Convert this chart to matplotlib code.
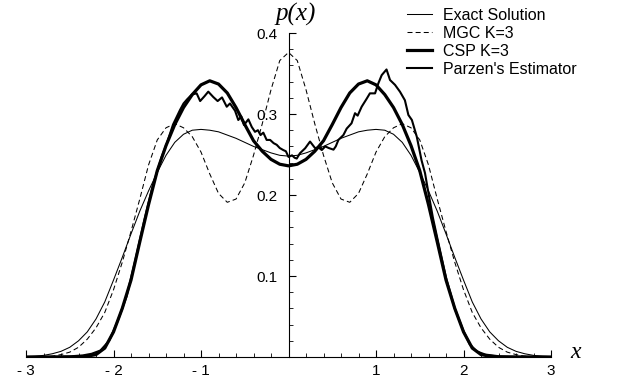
import numpy as np
import matplotlib.pyplot as plt
from matplotlib.ticker import FixedLocator, MultipleLocator

# grid for the smooth curves (step 0.1 from -3 to 3)
x_grid = np.linspace(-3, 3, 61)

exact = [0.0005, 0.001, 0.002, 0.004, 0.007, 0.012, 0.020, 0.031, 0.047, 0.068,
         0.095, 0.123, 0.152, 0.180, 0.205, 0.228, 0.249, 0.265, 0.275, 0.280,
         0.281, 0.280, 0.278, 0.274, 0.270, 0.265, 0.260, 0.256, 0.252, 0.249,
         0.248,
         0.249, 0.252, 0.256, 0.260, 0.265, 0.270, 0.274, 0.278, 0.280, 0.281,
         0.280, 0.275, 0.265, 0.249, 0.228, 0.205, 0.180, 0.152, 0.123, 0.095,
         0.068, 0.047, 0.031, 0.020, 0.012, 0.007, 0.004, 0.002, 0.001, 0.0005]

mgc = [0.0, 0.0, 0.0, 0.001, 0.003, 0.006, 0.012, 0.022, 0.036, 0.055,
       0.083, 0.117, 0.155, 0.195, 0.237, 0.268, 0.283, 0.288, 0.283, 0.272,
       0.253, 0.226, 0.202, 0.191, 0.195, 0.215, 0.249, 0.288, 0.330, 0.366,
       0.376,
       0.366, 0.330, 0.288, 0.249, 0.215, 0.195, 0.191, 0.202, 0.226, 0.253,
       0.272, 0.283, 0.288, 0.283, 0.268, 0.237, 0.195, 0.155, 0.117, 0.083,
       0.055, 0.036, 0.022, 0.012, 0.006, 0.003, 0.001, 0.0, 0.0, 0.0]

csp = [0.0, 0.0, 0.0, 0.0, 0.0, 0.0, 0.0, 0.001, 0.003, 0.011,
       0.031, 0.060, 0.095, 0.142, 0.188, 0.230, 0.261, 0.287, 0.308, 0.324,
       0.336, 0.341, 0.337, 0.326, 0.308, 0.287, 0.267, 0.254, 0.244, 0.238,
       0.236,
       0.238, 0.244, 0.254, 0.267, 0.287, 0.308, 0.326, 0.337, 0.341, 0.336,
       0.324, 0.308, 0.287, 0.261, 0.230, 0.188, 0.142, 0.095, 0.060, 0.031,
       0.011, 0.003, 0.001, 0.0, 0.0, 0.0, 0.0, 0.0, 0.0, 0.0]

# Parzen's estimator, read point by point (noisy)
parzen_x = [-3.0, -2.7, -2.5, -2.35, -2.25, -2.15, -2.05, -1.95, -1.85, -1.75,
            -1.65, -1.55, -1.45, -1.39, -1.32, -1.24, -1.2, -1.16, -1.106, -1.05,
            -1.01, -0.96, -0.917, -0.86, -0.81, -0.76, -0.706, -0.669, -0.611, -0.574,
            -0.54, -0.509, -0.459, -0.42, -0.383, -0.35, -0.32, -0.288, -0.25, -0.21,
            -0.17, -0.135, -0.10, -0.06, -0.03, 0.0, 0.04, 0.07, 0.094, 0.13,
            0.19, 0.246, 0.305, 0.34, 0.38, 0.42, 0.46, 0.514, 0.54, 0.57,
            0.627, 0.665, 0.72, 0.76, 0.79, 0.836, 0.894, 0.93, 0.989, 1.027,
            1.065, 1.12, 1.16, 1.217, 1.274, 1.33, 1.37, 1.41, 1.466, 1.52,
            1.56, 1.6, 1.65, 1.71, 1.8, 1.9, 2.0, 2.07, 2.15, 2.25,
            2.4, 2.6, 3.0]
parzen_y = [0.0, 0.0003, 0.0008, 0.002, 0.004, 0.008, 0.020, 0.045, 0.075, 0.120,
            0.168, 0.212, 0.247, 0.264, 0.287, 0.305, 0.313, 0.318, 0.324, 0.3255,
            0.316, 0.322, 0.3276, 0.321, 0.316, 0.3205, 0.309, 0.313, 0.304, 0.2926,
            0.297, 0.2864, 0.2934, 0.284, 0.278, 0.280, 0.274, 0.277, 0.268, 0.268,
            0.264, 0.262, 0.258, 0.2555, 0.254, 0.247, 0.249, 0.246, 0.245, 0.2515,
            0.2577, 0.266, 0.2577, 0.259, 0.2555, 0.260, 0.258, 0.256, 0.260, 0.268,
            0.274, 0.282, 0.2885, 0.301, 0.298, 0.309, 0.319, 0.3255, 0.3255, 0.338,
            0.348, 0.355, 0.342, 0.336, 0.3275, 0.317, 0.2988, 0.2926, 0.272, 0.243,
            0.227, 0.202, 0.172, 0.142, 0.098, 0.060, 0.032, 0.016, 0.007, 0.003,
            0.001, 0.0003, 0.0]

x_ticks = [-3, -2, -1, 1, 2, 3]
x_labels = ['- 3', '- 2', '- 1', '1', '2', '3']
y_ticks = [0.1, 0.2, 0.3, 0.4]
y_labels = ['0.1', '0.2', '0.3', '0.4']

plt.rcParams['font.family'] = ['Liberation Sans', 'DejaVu Sans']

fig = plt.figure(figsize=(6.21, 3.87), dpi=100)
ax = fig.add_axes([0.0419, 0.0775, 0.8454, 0.8372])

ax.plot(x_grid, exact, color='black', lw=0.75, label='Exact Solution')
ax.plot(x_grid, mgc, color='black', lw=0.75, linestyle=(0, (4.8, 3.0)), label='MGC K=3')
ax.plot(x_grid, csp, color='black', lw=2.3, label='CSP K=3')
ax.plot(parzen_x, parzen_y, color='black', lw=1.5, label="Parzen's Estimator")

ax.set_xlim(-3, 3)
ax.set_ylim(0, 0.4)

# axes through the origin, Mathematica style
ax.spines['left'].set_position(('data', 0))
ax.spines['top'].set_visible(False)
ax.spines['right'].set_visible(False)
for s in ('left', 'bottom'):
    ax.spines[s].set_linewidth(0.8)

ax.xaxis.set_major_locator(FixedLocator(x_ticks))
ax.set_xticklabels(x_labels)
ax.xaxis.set_minor_locator(MultipleLocator(0.2))
ax.yaxis.set_major_locator(FixedLocator(y_ticks))
ax.set_yticklabels(y_labels)
ax.yaxis.set_minor_locator(MultipleLocator(0.02))

ax.tick_params(axis='x', which='major', direction='in', length=5, width=0.8, labelsize=11, pad=5)
ax.tick_params(axis='x', which='minor', direction='in', length=3, width=0.6)
ax.tick_params(axis='y', which='major', direction='in', length=5, width=0.8, labelsize=11, pad=8)
ax.tick_params(axis='y', which='minor', direction='in', length=3, width=0.6)

fig.text(576 / 621, 1 - 353 / 387, 'x', fontsize=17, style='italic',
         family='Liberation Serif', ha='center', va='center')
fig.text(296 / 621, 1 - 14 / 387, 'p(x)', fontsize=18, style='italic',
         family='Liberation Serif', ha='center', va='center')

ax.legend(loc='upper left', bbox_to_anchor=(407 / 621, 1 - 8 / 387),
          bbox_transform=fig.transFigure, frameon=False, fontsize=11.5,
          handlelength=1.55, handletextpad=0.7, labelspacing=0.18,
          borderpad=0, borderaxespad=0)

fig.savefig('out.png', dpi=100)
